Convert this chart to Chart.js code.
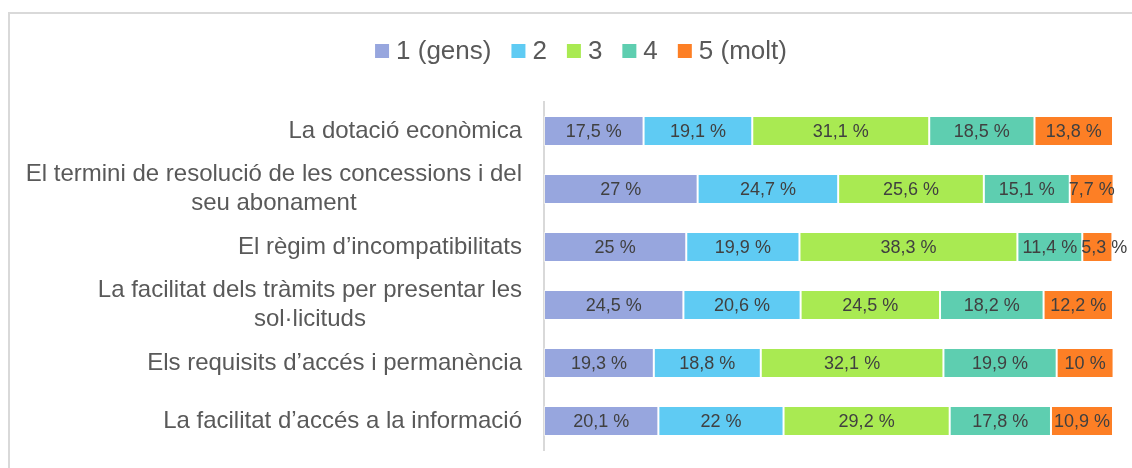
<!DOCTYPE html>
<html><head><meta charset="utf-8">
<script src="https://cdn.jsdelivr.net/npm/chart.js@4/dist/chart.umd.min.js"></script>
<style>html,body{margin:0;padding:0;background:#fff;overflow:hidden}#wrap{position:relative;width:1132px;height:468px}</style>
</head><body><div id="wrap"><canvas id="c" width="1132" height="468"></canvas></div>
<script>
const categories = [
  'La dotació econòmica',
  ['El termini de resolució de les concessions i del', 'seu abonament'],
  'El règim d’incompatibilitats',
  ['La facilitat dels tràmits per presentar les', 'sol·licituds'],
  'Els requisits d’accés i permanència',
  'La facilitat d’accés a la informació'
];
const seriesNames = ['1 (gens)', '2', '3', '4', '5 (molt)'];
const s1 = [17.5, 27, 25, 24.5, 19.3, 20.1];
const s2 = [19.1, 24.7, 19.9, 20.6, 18.8, 22];
const s3 = [31.1, 25.6, 38.3, 24.5, 32.1, 29.2];
const s4 = [18.5, 15.1, 11.4, 18.2, 19.9, 17.8];
const s5 = [13.8, 7.7, 5.3, 12.2, 10, 10.9];
const seriesValues = [s1, s2, s3, s4, s5];
const colors = ['#97A6DE', '#5FCBF3', '#A9EA52', '#5ECEB0', '#FD7F25'];

const FONT = "'Liberation Sans', Arial, sans-serif";

const framePlugin = {
  id: 'frame',
  beforeDraw(chart) {
    const ctx = chart.ctx;
    ctx.save();
    ctx.fillStyle = '#fff';
    ctx.fillRect(0, 0, chart.width, chart.height);
    ctx.fillStyle = '#d9d9d9';
    ctx.fillRect(8, 12, chart.width - 8, 2);
    ctx.fillRect(8, 12, 2, chart.height - 12);
    ctx.restore();
  }
};

const legendPlugin = {
  id: 'customLegend',
  afterDraw(chart) {
    const ctx = chart.ctx;
    ctx.save();
    ctx.font = '26px ' + FONT;
    const box = 14, gap = 7, spacing = 20;
    const items = chart.data.datasets.map(d => ({ text: d.label, color: d.backgroundColor, w: ctx.measureText(d.label).width }));
    let total = 0;
    items.forEach((it, i) => { total += box + gap + it.w + (i < items.length - 1 ? spacing : 0); });
    let x = 581 - total / 2;
    const cy = 51;
    ctx.textBaseline = 'middle';
    ctx.textAlign = 'left';
    items.forEach(it => {
      ctx.fillStyle = it.color;
      ctx.fillRect(x, cy - box / 2, box, box);
      x += box + gap;
      ctx.fillStyle = '#595959';
      ctx.fillText(it.text, x, cy + 1);
      x += it.w + spacing;
    });
    ctx.restore();
  }
};

const catLabelPlugin = {
  id: 'catLabels',
  afterDraw(chart) {
    const ctx = chart.ctx;
    const ys = chart.scales.y;
    ctx.save();
    ctx.font = '24px ' + FONT;
    ctx.fillStyle = '#595959';
    ctx.textBaseline = 'middle';
    ctx.textAlign = 'center';
    const xR = 522, lh = 29;
    chart.data.labels.forEach((lab, i) => {
      const lines = Array.isArray(lab) ? lab : [lab];
      const bw = Math.max(...lines.map(l => ctx.measureText(l).width));
      const cx = xR - bw / 2;
      const cy = ys.getPixelForValue(i);
      const y0 = cy - (lines.length - 1) * lh / 2;
      lines.forEach((l, k) => ctx.fillText(l, cx, y0 + k * lh));
    });
    ctx.restore();
  }
};

const valueLabelPlugin = {
  id: 'valueLabels',
  afterDatasetsDraw(chart) {
    const ctx = chart.ctx;
    ctx.save();
    ctx.font = '18px ' + FONT;
    ctx.fillStyle = '#404040';
    ctx.textBaseline = 'middle';
    ctx.textAlign = 'center';
    chart.data.datasets.forEach((ds, di) => {
      const meta = chart.getDatasetMeta(di);
      meta.data.forEach((el, i) => {
        const v = ds.data[i];
        const txt = String(v).replace('.', ',') + ' %';
        const w = ctx.measureText(txt).width;
        const left = Math.min(el.x, el.base), right = Math.max(el.x, el.base);
        let cx = (left + right) / 2;
        cx = Math.max(cx, left + w / 2 - 1);
        ctx.fillText(txt, cx, el.y + 1);
      });
    });
    ctx.restore();
  }
};

new Chart(document.getElementById('c'), {
  type: 'bar',
  data: {
    labels: categories,
    datasets: seriesNames.map((n, i) => ({
      label: n,
      data: seriesValues[i],
      backgroundColor: colors[i],
      borderColor: 'rgba(255,255,255,0.45)',
      borderWidth: 1,
      borderSkipped: false,
      barPercentage: 0.52,
      categoryPercentage: 1
    }))
  },
  options: {
    indexAxis: 'y',
    responsive: false,
    animation: false,
    devicePixelRatio: 1,
    layout: { padding: { top: 102, bottom: 18, left: 0, right: 19 } },
    plugins: { legend: { display: false }, tooltip: { enabled: false } },
    scales: {
      x: { stacked: true, min: 0, max: 100, display: false },
      y: {
        stacked: true,
        ticks: { display: false },
        grid: { display: false, drawTicks: false },
        border: { display: true, color: '#d9d9d9', width: 2 },
        afterFit(scale) { scale.width = 544; }
      }
    }
  },
  plugins: [framePlugin, legendPlugin, catLabelPlugin, valueLabelPlugin]
});
</script>
</body></html>
